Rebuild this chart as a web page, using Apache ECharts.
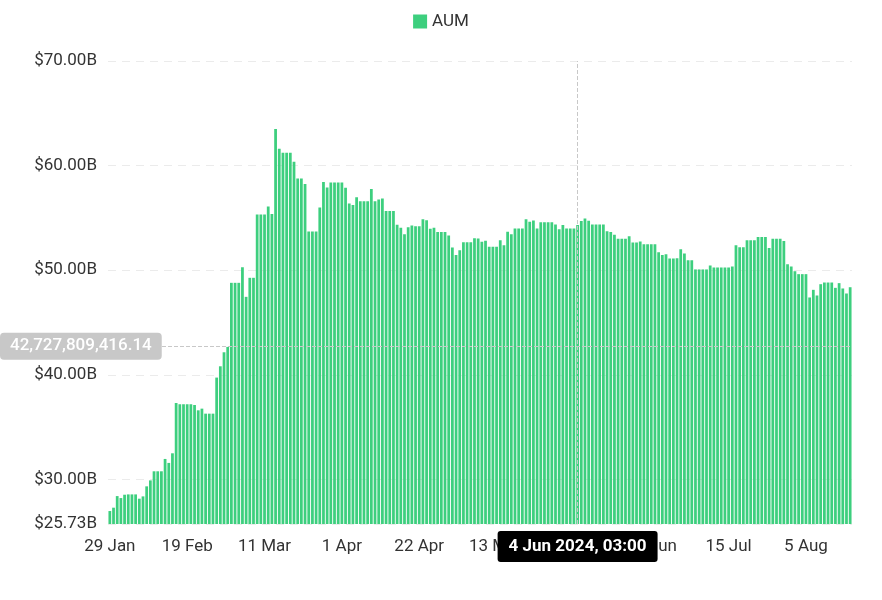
<!DOCTYPE html>
<html><head><meta charset="utf-8">
<script src="https://cdn.jsdelivr.net/npm/echarts@6/dist/echarts.min.js"></script>
<style>html,body{margin:0;padding:0;background:#fff}#c{width:882px;height:600px}</style>
</head><body><div id="c"></div>
<script>
// ---- data ----
const startDate = '2024-01-29';   // first daily bar
const dayCount = 202;             // number of daily bars
const aumBillions = [
  26.97, 27.29, 28.40, 28.21, 28.53, 28.56, 28.56, 28.56, 28.15, 28.37,
  29.33, 29.90, 30.77, 30.77, 30.77, 31.95, 31.57, 32.49, 37.30, 37.18,
  37.18, 37.18, 37.18, 37.11, 36.60, 36.76, 36.28, 36.28, 36.28, 39.73,
  40.81, 42.15, 42.66, 48.79, 48.79, 48.79, 50.29, 47.45, 49.27, 49.27,
  55.33, 55.33, 55.33, 56.09, 55.36, 63.49, 61.61, 61.23, 61.23, 61.23,
  60.36, 58.77, 58.77, 58.23, 53.70, 53.70, 53.70, 56.00, 58.42, 57.91,
  58.39, 58.39, 58.39, 58.39, 57.88, 56.38, 56.22, 56.98, 56.60, 56.60,
  56.60, 57.75, 56.60, 56.76, 56.86, 55.65, 55.65, 55.65, 54.34, 54.05,
  53.44, 54.11, 54.27, 54.21, 54.21, 54.88, 54.78, 53.95, 54.05, 53.64,
  53.64, 53.64, 53.32, 52.17, 51.46, 51.91, 52.68, 52.68, 52.68, 53.06,
  53.03, 52.71, 52.81, 52.23, 52.23, 52.23, 52.87, 52.39, 53.67, 53.44,
  53.99, 53.99, 53.99, 54.88, 54.62, 54.75, 53.99, 54.59, 54.59, 54.59,
  54.59, 54.37, 53.92, 54.31, 53.99, 53.99, 53.99, 54.31, 54.69, 54.95,
  54.72, 54.37, 54.37, 54.37, 54.37, 53.73, 53.64, 53.38, 53.00, 53.00,
  53.00, 53.25, 52.65, 52.65, 52.74, 52.49, 52.49, 52.49, 52.49, 51.72,
  51.44, 51.53, 51.12, 51.12, 51.15, 52.01, 51.60, 50.96, 50.96, 50.07,
  50.07, 50.07, 50.07, 50.45, 50.26, 50.26, 50.26, 50.26, 50.26, 50.35,
  52.39, 52.20, 52.20, 52.87, 52.87, 52.87, 53.16, 53.16, 53.16, 52.11,
  53.00, 53.00, 53.00, 52.78, 50.57, 50.35, 49.90, 49.62, 49.62, 49.62,
  47.39, 48.12, 47.58, 48.66, 48.82, 48.82, 48.82, 48.31, 48.76, 48.25,
  47.77, 48.37
];
const seriesName = 'AUM';
const yMin = 25.73;
const yMax = 70;
const pointerDate = '2024-06-04';
const pointerTime = '03:00';
const pointerValue = 42.72780941614; // billions
const monthNames = ['Jan','Feb','Mar','Apr','May','Jun','Jul','Aug','Sep','Oct','Nov','Dec'];

// ---- build categories (consecutive days) ----
const categories = [];
{
  const d0 = new Date(startDate + 'T00:00:00Z');
  for (let i = 0; i < dayCount; i++) {
    const d = new Date(d0.getTime() + i * 86400000);
    categories.push(d.toISOString().slice(0, 10));
  }
}
function parts(s) {
  const d = new Date(s + 'T00:00:00Z');
  return {day: d.getUTCDate(), mon: monthNames[d.getUTCMonth()], year: d.getUTCFullYear()};
}
function fmtBig(v) {
  const raw = (v * 1e9).toFixed(2);
  const [ip, dp] = raw.split('.');
  return ip.replace(/\B(?=(\d{3})+(?!\d))/g, ',') + '.' + dp;
}

const FONT = 'Roboto';
const green = '#3dcf7e';
const chart = echarts.init(document.getElementById('c'), null, {renderer: 'canvas'});
chart.setOption({
  animation: false,
  textStyle: {fontFamily: FONT},
  legend: {
    data: [seriesName], top: 8, left: 'center',
    icon: 'rect', itemWidth: 14, itemHeight: 14, itemGap: 10,
    textStyle: {fontSize: 17, color: '#333', fontFamily: FONT}
  },
  grid: {left: 108, right: 30, top: 61, bottom: 76, containLabel: false},
  xAxis: {
    type: 'category', data: categories, boundaryGap: true,
    axisLine: {show: false}, axisTick: {show: false},
    axisLabel: {
      interval: 20, margin: 14, fontSize: 17, color: '#333', fontFamily: FONT,
      formatter: v => { const p = parts(v); return p.day + ' ' + p.mon; }
    },
    axisPointer: {
      show: true, type: 'line', value: pointerDate, status: 'show', snap: true,
      lineStyle: {color: '#c8c8c8', type: 'dashed', width: 1},
      label: {
        show: true, backgroundColor: '#000', color: '#fff', fontWeight: 'bold',
        fontSize: 17, fontFamily: FONT, padding: [7, 11, 7, 11], borderRadius: 3, margin: 7,
        formatter: p => { const q = parts(p.value); return q.day + ' ' + q.mon + ' ' + q.year + ', ' + pointerTime; }
      }
    }
  },
  yAxis: {
    type: 'value', min: yMin, max: yMax,
    axisLine: {show: false}, axisTick: {show: false},
    splitLine: {lineStyle: {color: '#ebebeb', type: [8, 6], width: 1}},
    axisLabel: {
      margin: 11, fontSize: 17, color: '#333', fontFamily: FONT,
      formatter: v => '$' + v.toFixed(2) + 'B'
    },
    axisPointer: {
      show: true, type: 'line', value: pointerValue, status: 'show',
      lineStyle: {color: '#c8c8c8', type: 'dashed', width: 1},
      label: {
        show: true, backgroundColor: '#c8c8c8', color: '#fff', fontWeight: 500,
        fontSize: 17, fontFamily: FONT, padding: [5, 10, 5, 10], borderRadius: 4,
        formatter: p => fmtBig(p.value)
      }
    }
  },
  series: [{
    name: seriesName, type: 'bar', data: aumBillions,
    itemStyle: {color: green}, barCategoryGap: '25%'
  }]
});
</script>
</body></html>
